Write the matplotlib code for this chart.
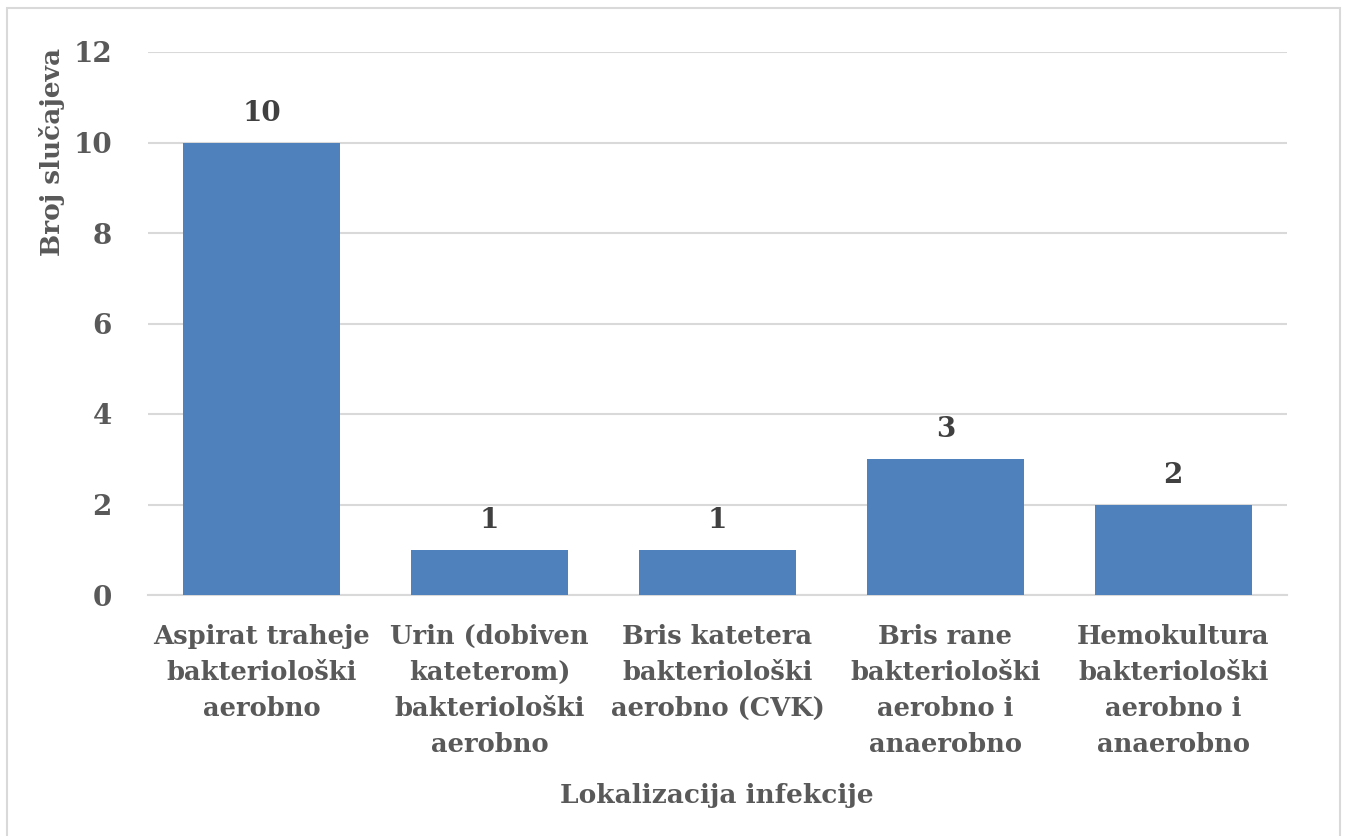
import matplotlib.pyplot as plt
from matplotlib.patches import Rectangle

# podaci
kategorije = ['Aspirat traheje\nbakteriološki\naerobno',
              'Urin (dobiven\nkateterom)\nbakteriološki\naerobno',
              'Bris katetera\nbakteriološki\naerobno (CVK)',
              'Bris rane\nbakteriološki\naerobno i\nanaerobno',
              'Hemokultura\nbakteriološki\naerobno i\nanaerobno']
broj_slucajeva = [10, 1, 1, 3, 2]
y_ticks = [0, 2, 4, 6, 8, 10, 12]

plt.rcParams['font.family'] = ['DejaVu Serif']
plt.rcParams['font.weight'] = 'bold'

fig = plt.figure(figsize=(13.47, 8.36), dpi=100)
ax = fig.add_axes([148 / 1347, 1 - 595 / 836, (1287 - 148) / 1347, (595 - 52) / 836])

pozicije = range(len(kategorije))
ax.bar(pozicije, broj_slucajeva, width=0.69, color='#4F81BD', zorder=3)
for x, v in zip(pozicije, broj_slucajeva):
    ax.text(x, v + 0.35, str(v), ha='center', va='bottom', fontsize=20,
            fontweight='bold', color='#404040')

ax.set_xlim(-0.5, len(kategorije) - 0.5)
ax.set_ylim(0, 12)
ax.set_yticks(y_ticks)
ax.set_xticks(list(pozicije))
ax.set_xticklabels(kategorije, fontsize=18.5, color='#595959', fontweight='bold',
                   linespacing=1.55, va='top')
ax.tick_params(axis='x', length=0, pad=21)
ax.tick_params(axis='y', length=0, pad=26, labelsize=20, labelcolor='#595959')
for t in ax.get_yticklabels():
    t.set_fontweight('bold')

ax.grid(axis='y', color='#D9D9D9', linewidth=1.5, zorder=0)
for s in ['top', 'right', 'left']:
    ax.spines[s].set_visible(False)
ax.spines['bottom'].set_color('#D9D9D9')
ax.spines['bottom'].set_linewidth(1.5)

fig.text(717 / 1347, 1 - 796 / 836, 'Lokalizacija infekcije', ha='center', va='center',
         fontsize=19, fontweight='bold', color='#595959')
fig.text(52 / 1347, 1 - 152 / 836, 'Broj slučajeva', ha='center', va='center',
         rotation=90, fontsize=19, fontweight='bold', color='#595959')

# okvir grafikona
fig.patches.append(Rectangle((7 / 1347, -0.01), 1333 / 1347, 1 - 8 / 836 + 0.01,
                             transform=fig.transFigure, fill=False,
                             edgecolor='#D9D9D9', linewidth=1.5))

plt.savefig('out.png', dpi=100)
